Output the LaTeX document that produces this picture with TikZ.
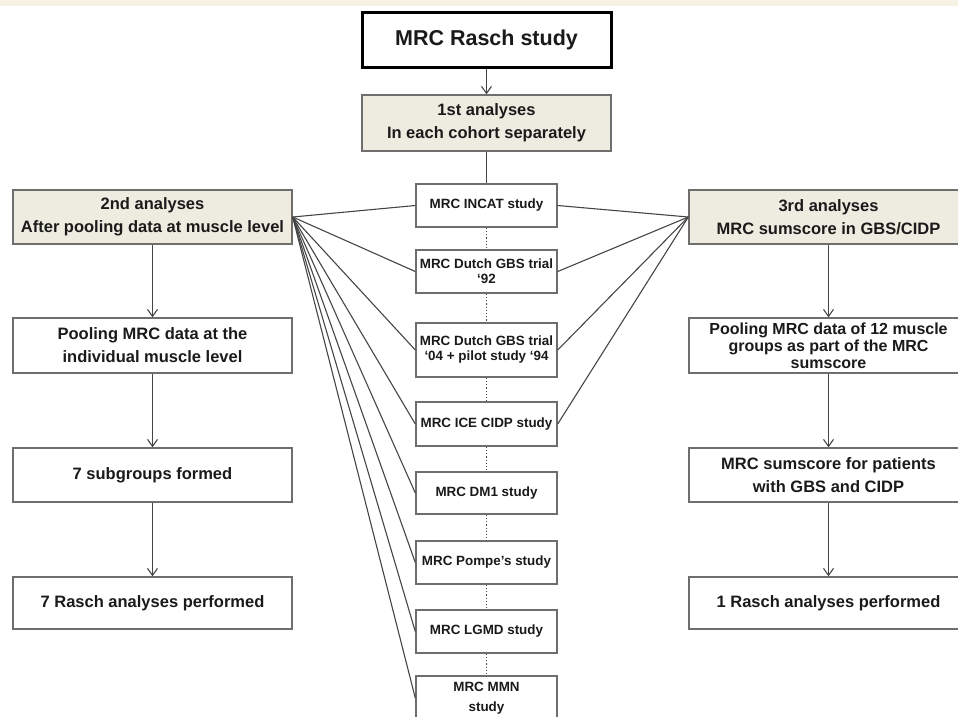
\documentclass[tikz,border=0pt]{standalone}
\usepackage{fontspec}
\setmainfont{Liberation Sans}
\usetikzlibrary{arrows.meta}
\definecolor{bandbeige}{HTML}{F5F2E5}
\definecolor{boxbeige}{HTML}{EEECE1}
\definecolor{boxgray}{HTML}{6E6E6E}
\definecolor{linegray}{HTML}{454545}
\definecolor{txt}{HTML}{1A1A1A}
\begin{document}
\begin{tikzpicture}[x=1pt,y=-1pt,
  box/.style={draw=boxgray,line width=1.4pt,fill=white,inner sep=0pt,align=center,text=txt,font=\bfseries\fontsize{16.5}{23}\selectfont},
  wide/.style={box,minimum width=279pt},
  shade/.style={fill=boxbeige},
  cbox/.style={box,minimum width=141pt,font=\bfseries\fontsize{13.4}{15}\selectfont},
  arr/.style={draw=linegray,line width=1.1pt,-{Straight Barb[length=7pt,width=10pt]}},
  conn/.style={draw=linegray,line width=1.1pt},
  dots/.style={draw=linegray,line width=1.2pt,dotted}
]
\useasboundingbox (0,0) rectangle (958,716);
\fill[bandbeige] (0,0) rectangle (958,6);
% top
\node[box,draw=black,line width=3pt,minimum width=249pt,minimum height=55pt,font=\bfseries\fontsize{21.5}{24}\selectfont] (rasch) at (486.5,39.5) {MRC Rasch study};
\node[box,shade,minimum width=249pt,minimum height=56pt] (first) at (486.5,123) {1st analyses\\In each cohort separately};
% left column
\node[wide,shade,minimum height=54pt] (second) at (152.5,217) {2nd analyses\\After pooling data at muscle level};
\node[wide,minimum height=55pt] (lpool) at (152.5,345.5) {Pooling MRC data at the\\individual muscle level};
\node[wide,minimum height=54pt] (lsub) at (152.5,475) {7 subgroups formed};
\node[wide,minimum height=52pt] (lrasch) at (152.5,603) {7 Rasch analyses performed};
% right column
\node[wide,shade,minimum height=54pt] (third) at (828.5,217) {3rd analyses\\MRC sumscore in GBS/CIDP};
\node[wide,minimum height=55pt,font=\bfseries\fontsize{16}{16.8}\selectfont] (rpool) at (828.5,345.5) {Pooling MRC data of 12 muscle\\groups as part of the MRC\\sumscore};
\node[wide,minimum height=54pt] (rsum) at (828.5,475) {MRC sumscore for patients\\with GBS and CIDP};
\node[wide,minimum height=52pt] (rrasch) at (828.5,603) {1 Rasch analyses performed};
% centre column
\node[cbox,minimum height=43pt] (incat) at (486.5,205.5) {MRC INCAT study};
\node[cbox,minimum height=43pt] (d92) at (486.5,271.5) {MRC Dutch GBS trial\\‘92};
\node[cbox,minimum height=54pt] (d04) at (486.5,350) {MRC Dutch GBS trial\\‘04 + pilot study ‘94};
\node[cbox,minimum height=44pt] (ice) at (486.5,424) {MRC ICE CIDP study};
\node[cbox,minimum height=42pt] (dm1) at (486.5,493) {MRC DM1 study};
\node[cbox,minimum height=43pt] (pompe) at (486.5,562.5) {MRC Pompe's study};
\node[cbox,minimum height=43pt] (lgmd) at (486.5,631.5) {MRC LGMD study};
\node[cbox,minimum height=44pt,font=\bfseries\fontsize{13.4}{20}\selectfont] (mmn) at (486.5,698) {MRC MMN\\study};
% connectors
\draw[arr] (rasch) -- (first);
\draw[conn] (first) -- (incat);
\draw[dots] (incat) -- (d92);
\draw[dots] (d92) -- (d04);
\draw[dots] (d04) -- (ice);
\draw[dots] (ice) -- (dm1);
\draw[dots] (dm1) -- (pompe);
\draw[dots] (pompe) -- (lgmd);
\draw[dots] (lgmd) -- (mmn);
\draw[arr] (second) -- (lpool);
\draw[arr] (lpool) -- (lsub);
\draw[arr] (lsub) -- (lrasch);
\draw[arr] (third) -- (rpool);
\draw[arr] (rpool) -- (rsum);
\draw[arr] (rsum) -- (rrasch);
\foreach \n in {incat,d92,d04,ice,dm1,pompe,lgmd,mmn}
  \draw[conn] (second.east) -- (\n.west);
\foreach \n in {incat,d92,d04,ice}
  \draw[conn] (third.west) -- (\n.east);
\end{tikzpicture}
\end{document}
